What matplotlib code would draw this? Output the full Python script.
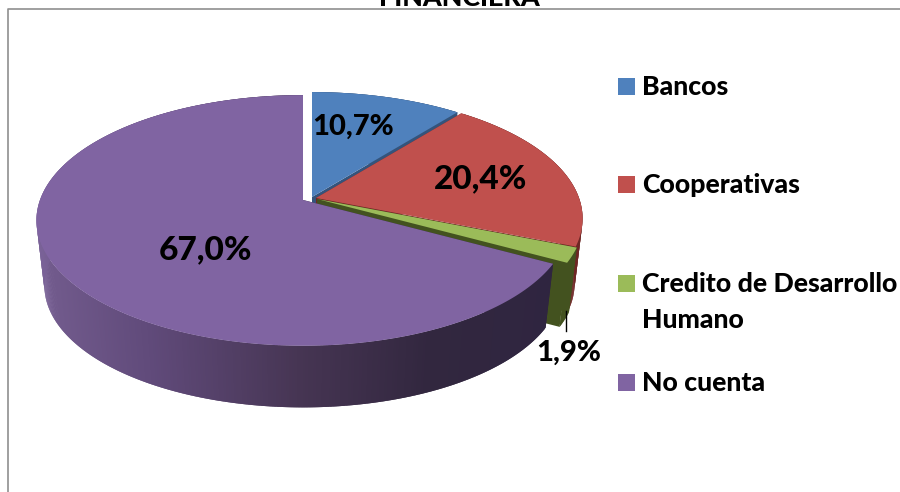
# pie with depth, drawn by hand because the reference has perspective
import numpy as np
import matplotlib
matplotlib.use("Agg")
import matplotlib.pyplot as plt
from matplotlib.colors import to_rgb

# data
title = "FINANCIERA"
categories = ["Bancos", "Cooperativas", "Credito de Desarrollo\nHumano", "No cuenta"]
shares = [10.7, 20.4, 1.9, 67.0]

# styles
top_colors = ["#4f81bd", "#c0504d", "#9bbb59", "#8064a2"]
side_colors = ["#34547c", "#6e2624", "#43521f", "#32273f"]
apex_x = [312, 316, 317, 303]
apex_y = [197, 198, 199, 200]
label_x = [353, 481, 569, 205]
label_y = [127, 179, 353, 250]
label_size = [21, 24, 21, 24]
legend_y = [86.5, 184.5, 283.5, 382.5]
text_y = [87, 185, 302, 383]

# purple wall gets lighter to the left
wall_x = [36, 50, 150, 300, 430, 560]
wall_col = ["#7a6298", "#715a8c", "#604a7a", "#463553", "#32273f", "#2f2540"]

plt.rcParams["font.family"] = ["Lato", "DejaVu Sans"]

# ellipse shape
A = 263
B = 122
K = 0.163
DEPTH = 66
SHRINK = 0.97


# turn angle (clockwise from top, degrees) into offset from the apex
def project(t):
    t = np.radians(t)
    w = 1 + K * np.cos(t)
    return A * np.sin(t) / w, -B * np.cos(t) / w


def main():
    fig = plt.figure(figsize=(9, 4.92), dpi=100)
    ax = fig.add_axes([0, 0, 1, 1])
    ax.set_xlim(0, 900)
    ax.set_ylim(492, 0)
    ax.axis("off")

    # frame
    ax.plot([8, 8, 900], [492, 9, 9], color="#8f8f8f", lw=1.2)
    ax.text(459, 6, title, fontsize=19.4, fontweight=900, ha="center", va="baseline")

    edges = np.cumsum([0] + shares) / sum(shares) * 360
    for i in range(len(shares)):
        ts = np.linspace(edges[i], edges[i + 1], max(3, int((edges[i + 1] - edges[i]) * 2)))
        dx, dy = project(ts)
        top_x = apex_x[i] + dx
        top_y = apex_y[i] + dy
        low_x = apex_x[i] + dx * SHRINK
        low_y = apex_y[i] + dy * SHRINK + DEPTH

        # cut faces
        ax.fill([apex_x[i], top_x[0], low_x[0], apex_x[i]],
                [apex_y[i], top_y[0], low_y[0], apex_y[i] + DEPTH],
                color=side_colors[i], lw=0)
        ax.fill([apex_x[i], top_x[-1], low_x[-1], apex_x[i]],
                [apex_y[i], top_y[-1], low_y[-1], apex_y[i] + DEPTH],
                color=side_colors[i], lw=0)

        # outer wall, strip by strip, each one runs under the next so no seams show
        for j in range(len(ts) - 1):
            k = min(j + 2, len(ts) - 1)
            if categories[i] == "No cuenta":
                mid = (top_x[j] + top_x[j + 1]) / 2
                col = [np.interp(mid, wall_x, [to_rgb(c)[n] for c in wall_col]) for n in range(3)]
            else:
                col = side_colors[i]
            ax.fill([top_x[j], top_x[k], low_x[k], low_x[j]],
                    [top_y[j], top_y[k], low_y[k], low_y[j]],
                    color=col, lw=0)

        # top face
        ax.fill(np.r_[apex_x[i], top_x], np.r_[apex_y[i], top_y], color=top_colors[i], lw=0)

    # labels
    for i in range(len(shares)):
        txt = f"{shares[i]:.1f}%".replace(".", ",")
        ax.text(label_x[i], label_y[i], txt, fontsize=label_size[i], fontweight=900,
                ha="center", va="center")
    ax.plot([566, 566], [311, 331], color="black", lw=1)

    # legend
    for i in range(len(categories)):
        ax.fill([618, 635, 635, 618], [legend_y[i] - 8.5, legend_y[i] - 8.5, legend_y[i] + 8.5, legend_y[i] + 8.5],
                color=top_colors[i], lw=0)
        ax.text(642.5, text_y[i], categories[i], fontsize=19.2, fontweight=900,
                ha="left", va="center", linespacing=1.55)

    fig.savefig("out.png", dpi=100)


if __name__ == "__main__":
    main()
